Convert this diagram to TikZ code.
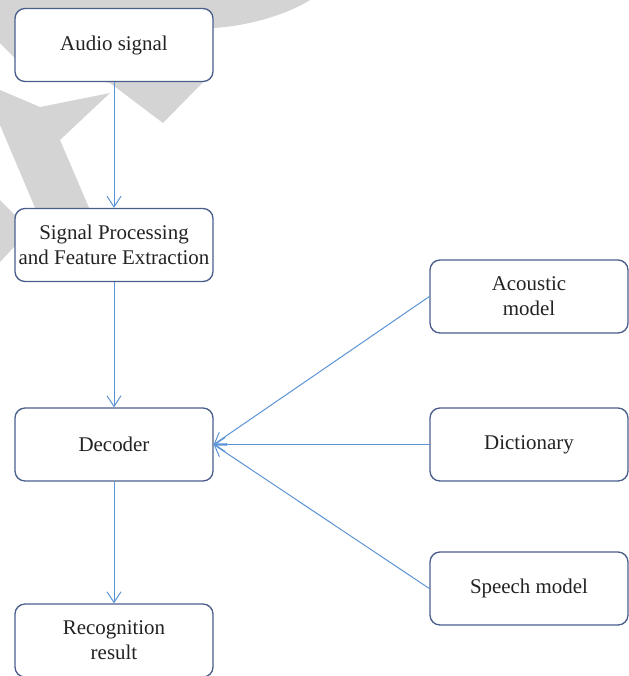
\documentclass[tikz,border=0pt]{standalone}
\usepackage{fontspec}
\setmainfont{Liberation Serif}
\usetikzlibrary{arrows.meta}
\definecolor{boxline}{RGB}{74,94,140}
\definecolor{flow}{RGB}{91,148,214}
\definecolor{wmgrey}{RGB}{212,212,212}
\definecolor{ink}{RGB}{34,34,34}
\tikzset{
  stage/.style={draw=boxline, line width=1pt, rounded corners=7.5pt, fill=white,
    minimum width=148.5pt, minimum height=54.75pt, inner sep=0pt, align=center,
    text=ink, font=\fontsize{15.7}{18.75}\selectfont},
  flowarrow/.style={draw=flow, line width=0.75pt,
    -{Straight Barb[length=8pt,width=10.5pt,line width=0.75pt]}}
}
\begin{document}
\begin{tikzpicture}[x=0.75pt,y=-0.75pt]
\useasboundingbox (0,0) rectangle (629,676);
% background mark
\fill[wmgrey] (0,0) -- (310,0) .. controls (292,12) and (252,26) .. (213,28)
  -- (213,72) -- (163,123) -- (110,83) -- (15,58) -- (0,43) -- cycle;
\fill[wmgrey] (0,90) -- (40,107) -- (110,93) -- (60,140) -- (90,210)
  -- (36,210) -- (0,125) -- cycle;
\fill[wmgrey] (0,200) -- (30,230) -- (0,262) -- cycle;
% processing chain
\node[stage] (audio) at (114,45) {Audio signal};
\node[stage] (sp) at (114,245) {Signal Processing\\and Feature Extraction};
\node[stage] (dec) at (114,444.5) {Decoder};
\node[stage] (rec) at (114,640.5) {Recognition\\result};
% knowledge sources
\node[stage] (ac) at (529,296.5) {Acoustic\\model};
\node[stage] (dict) at (529,444.5) {Dictionary};
\node[stage] (sm) at (529,588.5) {Speech model};
% connectors
\draw[flowarrow] (audio.south) -- (sp.north);
\draw[flowarrow] (sp.south) -- (dec.north);
\draw[flowarrow] (dec.south) -- (rec.north);
\draw[flowarrow] (ac.west) -- (dec.east);
\draw[flowarrow] (dict.west) -- (dec.east);
\draw[flowarrow] (sm.west) -- (dec.east);
\end{tikzpicture}
\end{document}
